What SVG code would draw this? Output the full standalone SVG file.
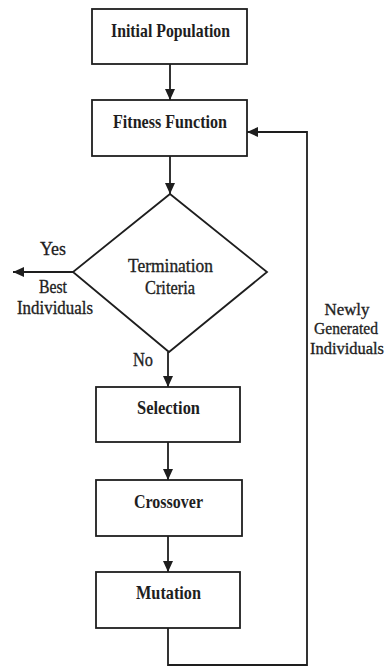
<svg xmlns="http://www.w3.org/2000/svg" width="390" height="666" viewBox="0 0 390 666">
  <defs>
    <marker id="arrow" viewBox="0 0 11 10" refX="11" refY="5" markerWidth="11" markerHeight="10" markerUnits="userSpaceOnUse" orient="auto">
      <path d="M0,0 L11,5 L0,10 Z" fill="#1e1e1e"/>
    </marker>
    <style>
      .box { fill: #ffffff; stroke: #1e1e1e; stroke-width: 1.8; }
      .line { fill: none; stroke: #1e1e1e; stroke-width: 1.8; }
      .arr { marker-end: url(#arrow); }
      text { font-family: "Liberation Serif", "DejaVu Serif", serif; font-size: 19px; fill: #1e1e1e; text-anchor: middle; }
      .b { font-weight: bold; }
      .m { stroke: #1e1e1e; stroke-width: 0.35; }
      .side { font-size: 17.5px; }
    </style>
  </defs>
  <rect width="390" height="666" fill="#ffffff"/>

  <g id="connectors">
    <line class="line arr" x1="170" y1="64" x2="170" y2="100"/>
    <line class="line arr" x1="170" y1="156" x2="170" y2="194"/>
    <line class="line arr" x1="168" y1="352" x2="168" y2="387"/>
    <line class="line arr" x1="168" y1="442" x2="168" y2="480"/>
    <line class="line arr" x1="168" y1="536" x2="168" y2="572"/>
    <line class="line arr" x1="73" y1="272" x2="13" y2="272"/>
    <polyline class="line arr" points="168,628 168,665 307,665 307,132 247,132"/>
  </g>

  <g id="initial-population">
    <rect class="box" x="92" y="9" width="155" height="55"/>
    <text class="b" x="170.5" y="37" textLength="119" lengthAdjust="spacingAndGlyphs">Initial Population</text>
  </g>

  <g id="fitness-function">
    <rect class="box" x="92" y="100" width="155" height="56"/>
    <text class="b" x="170" y="128" textLength="114" lengthAdjust="spacingAndGlyphs">Fitness Function</text>
  </g>

  <g id="termination-criteria">
    <polygon class="box" points="170,194 267,272 169,352 73,272"/>
    <text class="m" x="170.5" y="272" textLength="85" lengthAdjust="spacingAndGlyphs">Termination</text>
    <text class="m" x="170" y="294" textLength="50" lengthAdjust="spacingAndGlyphs">Criteria</text>
  </g>

  <g id="selection">
    <rect class="box" x="96" y="387" width="144" height="55"/>
    <text class="b" x="168.5" y="414" textLength="63" lengthAdjust="spacingAndGlyphs">Selection</text>
  </g>

  <g id="crossover">
    <rect class="box" x="96" y="480" width="146" height="56"/>
    <text class="b" x="168.5" y="508" textLength="69" lengthAdjust="spacingAndGlyphs">Crossover</text>
  </g>

  <g id="mutation">
    <rect class="box" x="96" y="572" width="144" height="56"/>
    <text class="b" x="168.5" y="599" textLength="65" lengthAdjust="spacingAndGlyphs">Mutation</text>
  </g>

  <g id="labels">
    <text class="m" x="53" y="255" textLength="26" lengthAdjust="spacingAndGlyphs">Yes</text>
    <text class="m" x="53" y="293" textLength="28" lengthAdjust="spacingAndGlyphs">Best</text>
    <text class="m" x="55" y="314" textLength="76" lengthAdjust="spacingAndGlyphs">Individuals</text>
    <text class="m" x="143" y="366" textLength="20" lengthAdjust="spacingAndGlyphs">No</text>
    <text class="m side" x="347" y="315" textLength="45" lengthAdjust="spacingAndGlyphs">Newly</text>
    <text class="m side" x="346" y="334" textLength="64" lengthAdjust="spacingAndGlyphs">Generated</text>
    <text class="m side" x="347" y="354" textLength="74" lengthAdjust="spacingAndGlyphs">Individuals</text>
  </g>
</svg>
